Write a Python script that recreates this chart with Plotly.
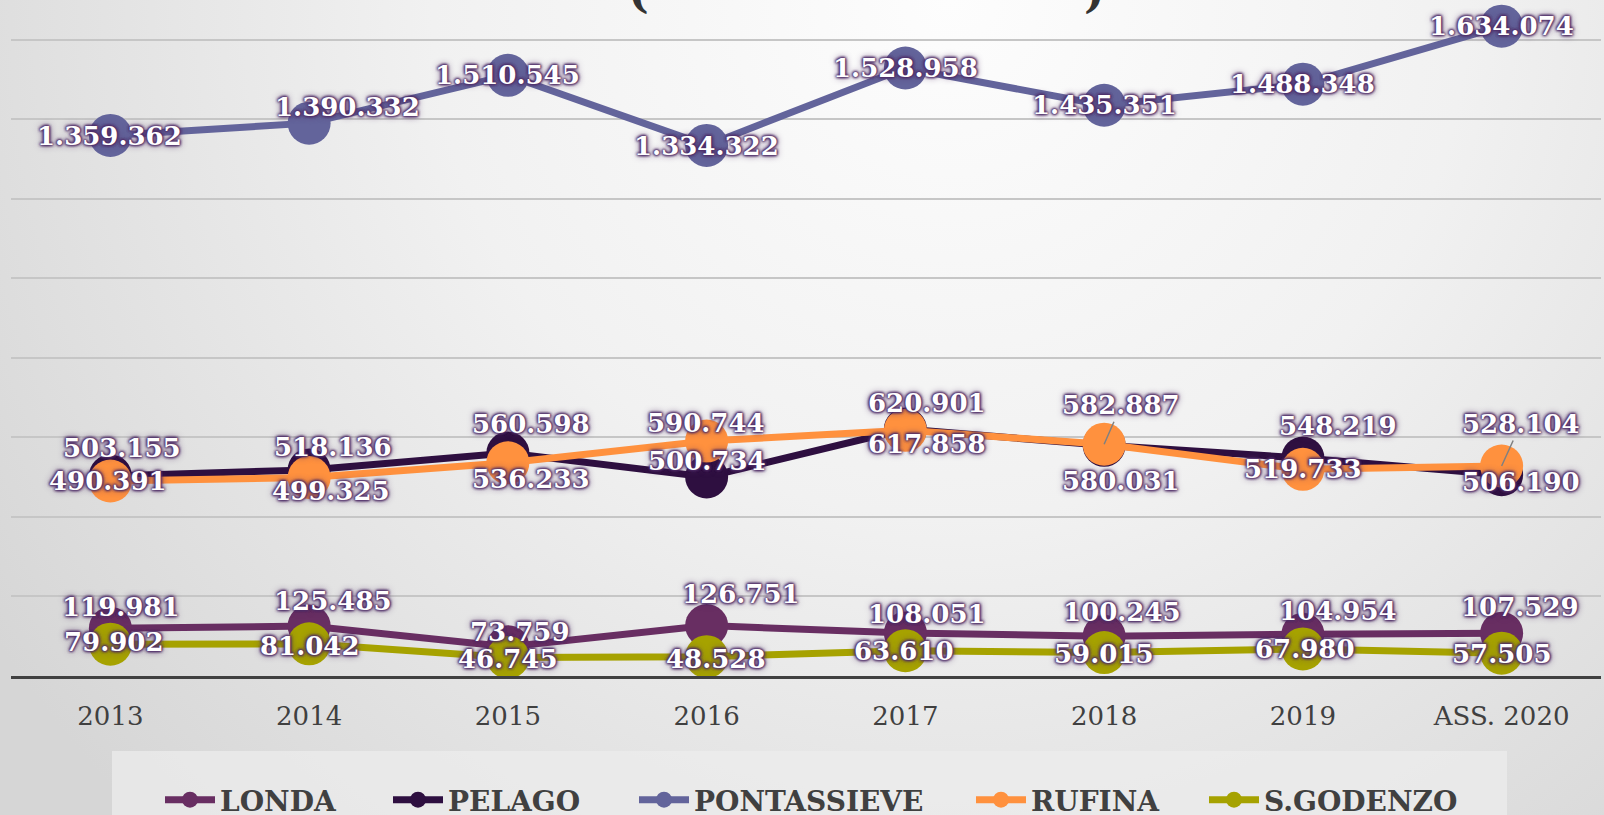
import base64
import plotly.graph_objects as go

# ---------------- data ----------------
categories = ["2013", "2014", "2015", "2016", "2017", "2018", "2019", "ASS. 2020"]
londa = [119981, 125485, 73759, 126751, 108051, 100245, 104954, 107529]
pelago = [503155, 518136, 560598, 500734, 620901, 580031, 548219, 506190]
pontassieve = [1359362, 1390332, 1510545, 1334322, 1528958, 1435351, 1488348, 1634074]
rufina = [490391, 499325, 536233, 590744, 617858, 582887, 519733, 528104]
sgodenzo = [79902, 81042, 46745, 48528, 63610, 59015, 67980, 57505]
series_names = ["LONDA", "PELAGO", "PONTASSIEVE", "RUFINA", "S.GODENZO"]

# ---------------- styles ----------------
series_values = [londa, pelago, pontassieve, rufina, sgodenzo]
colors = ["#682e62", "#2e0f40", "#63649b", "#ff913e", "#a6a200"]
# label offsets in pixels (dx right, dy down)
label_offsets = [
    [(11, -21), (24, -25), (12, -15), (34, -32), (22, -19), (18, -24), (35, -23), (18, -26)],
    [(12, -28), (24, -23), (23, -29), (0, -16), (22, -26), (17, 36), (35, -32), (19, 7)],
    [(-1, 1), (38, -16), (0, 0), (0, 1), (0, 0), (0, 0), (0, 0), (0, 0)],
    [(-2, 0), (22, 14), (23, 16), (-1, -18), (22, 14), (17, -39), (0, 0), (19, -42)],
    [(4, -2), (1, 2), (0, 2), (9, 2), (-1, 0), (0, 1), (2, 0), (0, 1)],
]
leader = {(3, 5), (3, 7)}
legend_item_px = [160, 388, 634, 971, 1204]

W, H = 1604, 815
ML, MR, MT, MB = 11, 3, 0, 139
PW, PH = W - ML - MR, H - MT - MB

def fmt(v):
    return f"{v:,}".replace(",", ".")

fig = go.Figure()
for i, (name, vals) in enumerate(zip(series_names, series_values)):
    fig.add_trace(go.Scatter(
        x=categories, y=vals, name=name, mode="lines+markers",
        line=dict(color=colors[i], width=7),
        marker=dict(color=colors[i], size=43),
        cliponaxis=False, hoverinfo="skip",
        legend="legend" if i == 0 else f"legend{i+1}",
    ))

glow = "#4e2c66"
label_font = dict(family="DejaVu Serif", size=26, color="white", weight="bold",
                  shadow=", ".join([f"0px 0px 3px {glow}"] * 4 + [f"0px 0px 7px {glow}"]))
annotations = []
for i, vals in enumerate(series_values):
    for j, v in enumerate(vals):
        dx, dy = label_offsets[i][j]
        if (i, j) in leader:
            annotations.append(dict(
                x=j, y=v, xref="x", yref="y", text=fmt(v),
                showarrow=True, ax=dx, ay=dy, axref="pixel", ayref="pixel",
                arrowhead=0, arrowwidth=1.5, arrowcolor="#808080", standoff=0,
                font=label_font))
        else:
            annotations.append(dict(
                x=j, y=v, xref="x", yref="y", text=fmt(v),
                showarrow=False, xshift=dx, yshift=-dy, font=label_font))

# partial title brackets at the very top edge
for ch, px in (("(", 638), (")", 1094)):
    annotations.append(dict(
        text=ch, x=(px - ML) / PW, y=1 - 19 / PH, xref="paper", yref="paper",
        xanchor="center", yanchor="bottom", showarrow=False,
        font=dict(family="DejaVu Serif", size=44, color="#333333", weight="bold")))

# background gradient image
svg = (f"<svg xmlns='http://www.w3.org/2000/svg' width='{W}' height='{H}'>"
       "<defs><radialGradient id='g' cx='950' cy='0' r='1150' gradientUnits='userSpaceOnUse'>"
       "<stop offset='0' stop-color='#fdfdfd'/><stop offset='0.45' stop-color='#f1f1f1'/>"
       "<stop offset='1' stop-color='#d6d6d6'/></radialGradient></defs>"
       f"<rect width='{W}' height='{H}' fill='url(#g)'/></svg>")
src = "data:image/svg+xml;base64," + base64.b64encode(svg.encode()).decode()

shapes = [dict(type="rect", xref="paper", yref="paper", layer="below",
               x0=(112 - ML) / PW, x1=(1507 - ML) / PW,
               y0=(PH - 751) / PH, y1=(PH - 830) / PH,
               fillcolor="rgba(236,236,236,0.75)", line=dict(width=0))]

legend_font = dict(family="DejaVu Serif", size=28, color="#404040", weight="bold")
layout_legends = {}
for i, px in enumerate(legend_item_px):
    key = "legend" if i == 0 else f"legend{i+1}"
    layout_legends[key] = dict(
        x=(px - ML) / PW, y=(PH - 800) / PH, xanchor="left", yanchor="middle",
        orientation="h", bgcolor="rgba(0,0,0,0)", borderwidth=0,
        font=legend_font, itemwidth=50)

fig.update_layout(
    width=W, height=H,
    margin=dict(l=ML, r=MR, t=MT, b=MB, pad=0, autoexpand=False),
    paper_bgcolor="#e4e4e4", plot_bgcolor="rgba(0,0,0,0)",
    showlegend=True,
    annotations=annotations, shapes=shapes,
    images=[dict(source=src, xref="paper", yref="paper", x=-ML / PW, y=1 + MT / PH,
                 sizex=W / PW, sizey=H / PH, xanchor="left", yanchor="top",
                 sizing="stretch", layer="below")],
    xaxis=dict(type="category", range=[-0.5, 7.5], showgrid=False,
               showline=True, linecolor="#404040", linewidth=3,
               ticks="", ticklabelstandoff=15, automargin=False,
               tickfont=dict(family="DejaVu Serif", size=26, color="#404040"),
               fixedrange=True),
    yaxis=dict(range=[0, 1700000], dtick=200000, showgrid=True,
               gridcolor="#c6c6c6", gridwidth=2, zeroline=False, automargin=False,
               showticklabels=False, ticks="", fixedrange=True),
    **layout_legends,
)

fig.write_html("out.html", config={"displayModeBar": False},
               post_script="document.body.style.margin='0';document.body.style.overflow='hidden';")
